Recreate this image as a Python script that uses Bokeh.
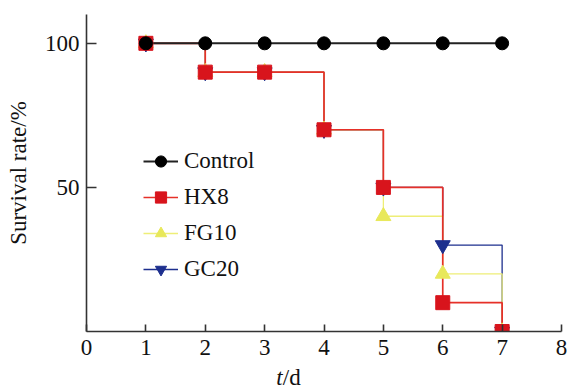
from bokeh.plotting import figure
from bokeh.models import FixedTicker, Range1d, Legend, LegendItem, Div
from bokeh.layouts import column
from bokeh.embed import file_html
from bokeh.resources import INLINE

days = [1, 2, 3, 4, 5, 6, 7]
control = [100, 100, 100, 100, 100, 100, 100]
hx8 = [100, 90, 90, 70, 50, 10, 0]
fg10 = [100, 90, 90, 70, 40, 20, 0]
gc20 = [100, 90, 90, 70, 50, 30, 0]

x_ticks = [0, 1, 2, 3, 4, 5, 6, 7, 8]
y_ticks = [50, 100]

FONT = "Times New Roman"
FS = "23px"

p = figure(frame_width=475, frame_height=317, output_backend="svg", toolbar_location=None,
           x_range=Range1d(0, 8), y_range=Range1d(0, 110),
           min_border_left=86, min_border_right=6, min_border_top=14, min_border_bottom=31)
p.xgrid.visible = False
p.ygrid.visible = False
p.outline_line_color = None
p.background_fill_color = "white"
p.border_fill_color = "white"

for ax in (p.xaxis[0], p.yaxis[0]):
    ax.axis_line_color = "#333333"
    ax.axis_line_width = 1.6
    ax.major_tick_line_color = "#333333"
    ax.major_tick_line_width = 1.6
    ax.minor_tick_line_color = None
    ax.major_tick_out = 0
    ax.major_label_text_font = FONT
    ax.major_label_text_font_size = FS
    ax.major_label_text_font_style = "normal"
    ax.major_label_text_color = "#111111"

p.xaxis.ticker = FixedTicker(ticks=x_ticks)
p.xaxis.major_tick_in = 7
p.xaxis.major_label_standoff = 8
p.yaxis.ticker = FixedTicker(ticks=y_ticks)
p.yaxis.major_tick_in = 10
p.yaxis.major_label_standoff = 7
p.yaxis.axis_label = "Survival rate/%"
p.yaxis.axis_label_text_font = FONT
p.yaxis.axis_label_text_font_style = "normal"
p.yaxis.axis_label_text_font_size = FS
p.yaxis.axis_label_text_color = "#111111"
p.yaxis.axis_label_standoff = 11

series = [
    ("GC20", gc20, "#1d2f8e", "#1d2f8e", "inverted_triangle", 15, 1.3),
    ("FG10", fg10, "#eeee77", "#e8e85a", "triangle", 15, 1.3),
    ("HX8", hx8, "#e63028", "#d8141c", "square", 14, 1.7),
    ("Control", control, "#222222", "#000000", "circle", 13, 2.0),
]

line_r = {}
for name, ys, lc, mc, mk, sz, lw in series:
    if name == "Control":
        line_r[name] = p.line(days, ys, line_color=lc, line_width=lw)
    else:
        line_r[name] = p.step(days, ys, mode="after", line_color=lc, line_width=lw)

mark_r = {}
for name, ys, lc, mc, mk, sz, lw in series:
    mark_r[name] = p.scatter(days, ys, marker=mk, size=sz, fill_color=mc, line_color=mc)

items = [LegendItem(label=n, renderers=[line_r[n], mark_r[n]]) for n in ["Control", "HX8", "FG10", "GC20"]]
legend = Legend(items=items, location=(57, 48), padding=0, margin=0, spacing=8,
                glyph_width=35, glyph_height=28, label_height=28, label_standoff=6,
                label_text_font=FONT, label_text_font_style="normal", label_text_font_size=FS,
                label_text_color="#111111",
                border_line_color=None, background_fill_alpha=0)
p.add_layout(legend)

xlab = Div(text="<i>t</i>/d", width=567, height=28,
           styles={"text-align": "center", "font-family": "'Times New Roman', serif",
                   "font-size": FS, "color": "#111111", "line-height": "22px",
                   "overflow": "visible"})

layout = column(p, xlab, spacing=0)
open("out.html", "w").write(file_html(layout, INLINE))
